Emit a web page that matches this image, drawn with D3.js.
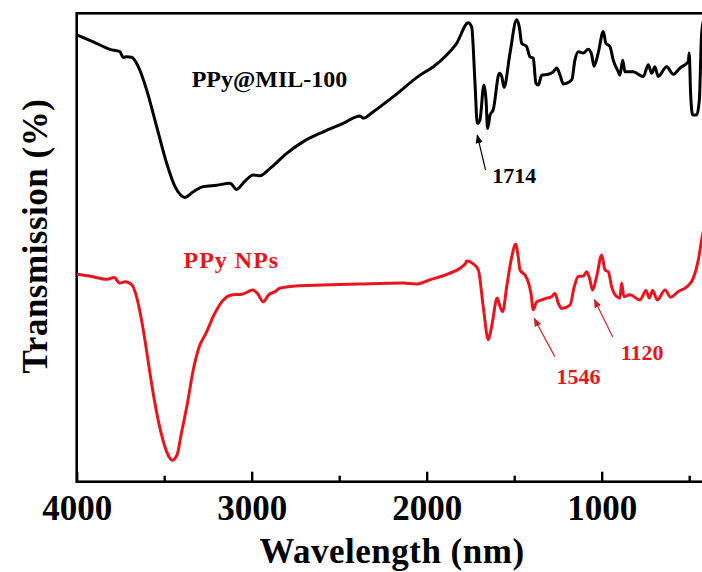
<!DOCTYPE html>
<html lang="en">
<head>
<meta charset="UTF-8">
<title>FTIR spectra</title>
<script src="https://d3js.org/d3.v7.min.js"></script>
<style>
    body { margin: 0; background: #fff; }
    svg { display: block; }
    .lbl { font-family: "Liberation Serif", "Times New Roman", serif; font-weight: bold; }
</style>
</head>
<body>
<script>
    // wavenumber readings for the black spectrum (PPy@MIL-100)
    var mofWn = [4000, 3905, 3810, 3753, 3734, 3714, 3686, 3648, 3600, 3543, 3486, 3438, 3381, 3334, 3277,
        3200, 3124, 3086, 3048, 2991, 2953, 2895, 2800, 2705, 2591, 2477, 2381, 2362, 2305, 2191, 2038,
        1962, 1886, 1829, 1762, 1743, 1724, 1711, 1696, 1673, 1661, 1652, 1638, 1620, 1585, 1571, 1558,
        1524, 1486, 1471, 1457, 1429, 1410, 1391, 1376, 1362, 1343, 1305, 1277, 1257, 1238, 1219, 1171,
        1153, 1134, 1105, 1077, 1057, 1044, 1020, 991, 976, 953, 934, 905, 896, 880, 867, 820, 762, 734,
        714, 696, 677, 629, 591, 553, 505, 500, 492, 480, 457, 442, 429, 415];
    var mofT = [95.4, 93.9, 92.3, 91.8, 90.6, 90.7, 90.6, 88.6, 83.6, 75.8, 68.0, 63.0, 60.7, 61.9, 63.0,
        63.3, 63.7, 62.4, 63.8, 65.5, 65.3, 66.9, 70.1, 72.6, 74.7, 76.5, 78.1, 77.6, 79.0, 82.2, 86.8,
        88.6, 91.1, 93.6, 98.0, 97.1, 85.1, 76.5, 77.2, 84.7, 81.5, 75.4, 78.3, 79.4, 87.2, 86.5, 84.2,
        91.5, 98.6, 97.1, 93.6, 92.9, 90.7, 90.4, 85.1, 84.7, 86.8, 87.0, 87.5, 88.3, 86.8, 84.9, 85.8,
        90.0, 91.8, 91.5, 92.3, 91.1, 88.7, 91.5, 96.1, 93.6, 92.9, 90.0, 87.5, 86.8, 90.0, 87.5, 87.5, 86.5, 89.0,
        87.2, 88.6, 86.5, 88.6, 87.0, 88.3, 89.7, 91.5, 82.9, 78.3, 78.3, 81.5, 95.7, 99.0];

    // red spectrum (PPy NPs)
    var ppyWn = [4000, 3927, 3825, 3786, 3753, 3722, 3684, 3658, 3633, 3607, 3581, 3556, 3517, 3478, 3454,
        3427, 3402, 3364, 3338, 3300, 3261, 3210, 3159, 3108, 3057, 2993, 2967, 2934, 2903, 2865, 2840,
        2750, 2597, 2392, 2136, 2060, 1983, 1881, 1778, 1772, 1734, 1705, 1677, 1648, 1629, 1597, 1581,
        1566, 1543, 1514, 1492, 1477, 1467, 1438, 1420, 1404, 1391, 1372, 1343, 1314, 1286, 1267, 1248,
        1229, 1181, 1157, 1134, 1105, 1086, 1067, 1052, 1029, 1000, 981, 962, 943, 914, 896, 886, 873,
        838, 781, 747, 728, 709, 682, 638, 606, 562, 514, 477, 448, 427, 405];
    var ppyT = [44.3, 43.9, 43.2, 43.6, 42.4, 42.7, 42.0, 39.5, 35.2, 29.5, 23.1, 17.4, 10.3, 5.7, 4.6,
        5.7, 10.3, 17.4, 23.1, 28.8, 31.7, 36.0, 38.9, 39.9, 40.0, 40.9, 40.2, 38.4, 39.9, 40.6, 41.3,
        41.8, 42.0, 42.2, 42.4, 42.2, 43.1, 44.3, 46.6, 47.1, 46.5, 45.2, 37.4, 30.3, 33.1, 39.2, 37.4,
        36.3, 41.6, 48.0, 50.7, 48.0, 45.2, 44.1, 42.7, 40.2, 36.7, 38.4, 38.8, 39.2, 39.5, 40.2, 38.1,
        37.0, 37.7, 41.6, 43.8, 43.9, 44.8, 43.1, 40.9, 43.8, 48.4, 45.2, 44.8, 41.6, 39.5, 39.2, 42.4, 39.5,
        39.9, 38.8, 40.8, 39.2, 40.8, 38.8, 40.9, 39.4, 40.6, 41.6, 43.4, 47.3, 52.0, 56.0];

    var seriesNames = ["PPy@MIL-100", "PPy NPs"];
    var majorTicks = [4000, 3000, 2000, 1000];
    var minorTicks = [3500, 2500, 1500, 500];

    // peak call-outs: label, wavenumber and transmission of the arrow tip
    var peakLabels = ["1714", "1546", "1120"];
    var peakWn = [1711, 1386, 1042];
    var peakT = [74.0, 34.9, 38.9];

    var width = 702, height = 572;
    var margin = { left: 76.7, top: 13.3, right: 706.7, bottom: 481.7 };
    var black = "#000", red = "#e8161c", darkRed = "#c8242a";

    var svg = d3.select("body").append("svg")
        .attr("width", width)
        .attr("height", height);

    var x = d3.scaleLinear().domain([4000, 400]).range([margin.left, margin.right]);
    var y = d3.scaleLinear().domain([0, 100]).range([margin.bottom, margin.top]);

    svg.append("clipPath").attr("id", "plot")
        .append("rect")
        .attr("x", margin.left).attr("y", margin.top)
        .attr("width", margin.right - margin.left)
        .attr("height", margin.bottom - margin.top);

    // frame
    svg.append("rect")
        .attr("x", margin.left).attr("y", margin.top)
        .attr("width", margin.right - margin.left)
        .attr("height", margin.bottom - margin.top)
        .attr("fill", "none")
        .attr("stroke", black)
        .attr("stroke-width", 2.6);

    // bottom axis, ticks pointing inwards
    var axisG = svg.append("g").attr("transform", "translate(0," + margin.bottom + ")");
    axisG.call(d3.axisBottom(x).tickValues(majorTicks).tickSize(-10).tickFormat(d3.format("d")));
    axisG.append("g").call(d3.axisBottom(x).tickValues(minorTicks).tickSize(-6).tickFormat(""));
    axisG.selectAll(".domain").remove();
    axisG.selectAll(".tick line").attr("stroke", black).attr("stroke-width", 2.4);
    axisG.selectAll(".tick text")
        .attr("class", "lbl")
        .attr("fill", black)
        .attr("y", 38)
        .attr("dy", 0)
        .style("font-size", "35px");

    // spectra
    var line = d3.line()
        .curve(d3.curveMonotoneX)
        .x(function (d) { return x(d[0]); })
        .y(function (d) { return y(d[1]); });

    var curves = [
        { pts: d3.zip(mofWn, mofT), color: black },
        { pts: d3.zip(ppyWn, ppyT), color: red }
    ];

    svg.append("g").attr("clip-path", "url(#plot)")
        .selectAll("path")
        .data(curves)
        .enter()
        .append("path")
        .attr("d", function (d) { return line(d.pts); })
        .attr("fill", "none")
        .attr("stroke", function (d) { return d.color; })
        .attr("stroke-width", 3)
        .attr("stroke-linejoin", "round");

    // series labels
    svg.append("text").attr("class", "lbl")
        .attr("x", 191.7).attr("y", 86.7)
        .style("font-size", "24px")
        .attr("fill", black)
        .text(seriesNames[0]);
    svg.append("text").attr("class", "lbl")
        .attr("x", 183.5).attr("y", 267.7)
        .style("font-size", "24px")
        .style("letter-spacing", "1px")
        .attr("fill", red)
        .text(seriesNames[1]);

    // arrow heads
    var defs = svg.append("defs");
    [["arrK", black], ["arrR", darkRed]].forEach(function (m) {
        defs.append("marker")
            .attr("id", m[0])
            .attr("viewBox", "0 0 10 10")
            .attr("refX", 9).attr("refY", 5)
            .attr("markerWidth", 9).attr("markerHeight", 9)
            .attr("markerUnits", "userSpaceOnUse")
            .attr("orient", "auto")
            .append("path")
            .attr("d", "M0,1 L10,5 L0,9 Z")
            .attr("fill", m[1]);
    });

    // tail offset and text offset from the arrow tip
    var callout = [
        { tail: [8.3, 35], text: [15, 47.7], color: black, marker: "arrK" },
        { tail: [20.7, 38.4], text: [22.4, 66], color: darkRed, marker: "arrR" },
        { tail: [18.4, 37.4], text: [26.4, 60.7], color: darkRed, marker: "arrR" }
    ];

    peakLabels.forEach(function (lab, i) {
        var tx = x(peakWn[i]), ty = y(peakT[i]), c = callout[i];
        svg.append("line")
            .attr("x1", tx + c.tail[0]).attr("y1", ty + c.tail[1])
            .attr("x2", tx).attr("y2", ty)
            .attr("stroke", c.color)
            .attr("stroke-width", 1.2)
            .attr("marker-end", "url(#" + c.marker + ")");
        svg.append("text").attr("class", "lbl")
            .attr("x", tx + c.text[0]).attr("y", ty + c.text[1])
            .style("font-size", "22px")
            .attr("fill", i === 0 ? black : red)
            .text(lab);
    });

    // axis titles
    svg.append("text").attr("class", "lbl")
        .attr("x", 392).attr("y", 562.7)
        .attr("text-anchor", "middle")
        .style("font-size", "35px")
        .style("letter-spacing", "0.5px")
        .text("Wavelength (nm)");

    svg.append("text").attr("class", "lbl")
        .attr("transform", "translate(47,236) rotate(-90)")
        .attr("text-anchor", "middle")
        .style("font-size", "35px")
        .style("letter-spacing", "0.5px")
        .text("Transmission (%)");
</script>
</body>
</html>
